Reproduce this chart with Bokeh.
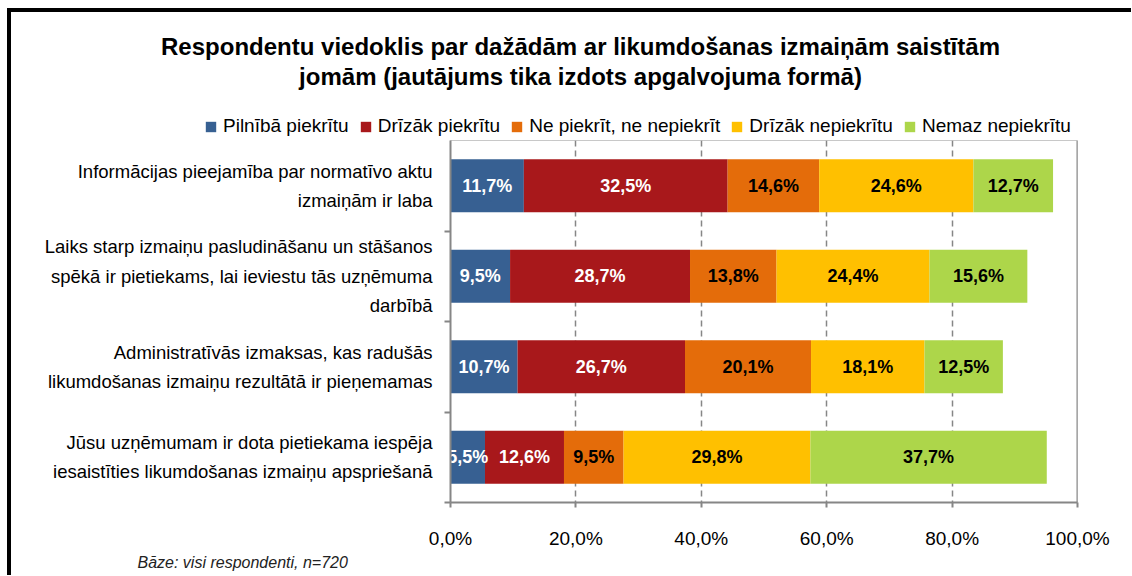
from bokeh.plotting import figure
from bokeh.models import ColumnDataSource, Range1d, FixedTicker, Span, Title, Label, Legend, LegendItem
from bokeh.layouts import column
from bokeh.embed import file_html
from bokeh.resources import INLINE
from bokeh.core.properties import value

# ---------------- data ----------------
title_lines = [
    "Respondentu viedoklis par dažādām ar likumdošanas izmaiņām saistītām",
    "jomām (jautājums tika izdots apgalvojuma formā)",
]
categories = [
    "Informācijas pieejamība par normatīvo aktu\nizmaiņām ir laba",
    "Laiks starp izmaiņu pasludināšanu un stāšanos\nspēkā ir pietiekams, lai ieviestu tās uzņēmuma\ndarbībā",
    "Administratīvās izmaksas, kas radušās\nlikumdošanas izmaiņu rezultātā ir pieņemamas",
    "Jūsu uzņēmumam ir dota pietiekama iespēja\niesaistīties likumdošanas izmaiņu apspriešanā",
]
series_names = ["Pilnībā piekrītu", "Drīzāk piekrītu", "Ne piekrīt, ne nepiekrīt",
                "Drīzāk nepiekrītu", "Nemaz nepiekrītu"]
pilniba_piekritu = [11.7, 9.5, 10.7, 5.5]
drizak_piekritu = [32.5, 28.7, 26.7, 12.6]
ne_piekrit_ne_nepiekrit = [14.6, 13.8, 20.1, 9.5]
drizak_nepiekritu = [24.6, 24.4, 18.1, 29.8]
nemaz_nepiekritu = [12.7, 15.6, 12.5, 37.7]
x_ticks = [0, 20, 40, 60, 80, 100]
x_tick_labels = ["0,0%", "20,0%", "40,0%", "60,0%", "80,0%", "100,0%"]
footnote = "Bāze: visi respondenti, n=720"

# ---------------- styles / layout ----------------
colors = ["#376092", "#A8181B", "#E46C0A", "#FFC000", "#ADD64A"]
label_colors = ["white", "white", "black", "black", "black"]
FONT = "Liberation Sans"
AXIS_GRAY = "#868686"

W = 1120
CX0, CY0 = 11, 12                        # canvas origin on the page
FL, FT, FR, FB = 450, 140, 1077, 502     # plot frame on the page
H_HEAD = FT - CY0                        # header strip (title + legend)
H_MAIN = 575 - FT                        # plot strip

series = [pilniba_piekritu, drizak_piekritu, ne_piekrit_ne_nepiekrit,
          drizak_nepiekritu, nemaz_nepiekritu]
keys = ["s0", "s1", "s2", "s3", "s4"]
ys = [i + 0.5 for i in range(len(categories))]

data = {"y": ys}
for k, s in zip(keys, series):
    data[k] = s
src = ColumnDataSource(data)

# ================= header: title + legend =================
head = figure(width=W, height=H_HEAD, output_backend="svg", toolbar_location=None,
              x_range=Range1d(CX0, CX0 + W), y_range=Range1d(FT, CY0),
              x_axis_type=None, y_axis_type=None,
              min_border_left=0, min_border_right=0, min_border_top=0, min_border_bottom=0)
try:
    head.frame_align = False
except AttributeError:
    pass
head.outline_line_color = None
head.grid.visible = False
head.background_fill_color = "white"
head.border_fill_color = "white"

for line, py in zip(title_lines, [46, 76]):
    head.add_layout(Label(x=580, y=py, text=line, text_align="center",
                          text_baseline="middle", text_font=FONT,
                          text_font_style="bold", text_font_size="24px",
                          text_color="black"))

# legend proxies: same stacked series, hidden in the header
proxies = head.hbar_stack(keys, y="y", height=0.585, color=colors, line_color=None,
                          source=src)
items = []
for name, r in zip(series_names, proxies):
    r.visible = False
    items.append(LegendItem(label=name, renderers=[r]))
lg = Legend(items=items, orientation="horizontal", location=(204 - CX0, FT - 137),
            background_fill_alpha=0, border_line_color=None, padding=0, margin=0,
            spacing=10, glyph_width=13, glyph_height=13, label_standoff=6,
            label_height=20, label_text_font=FONT, label_text_font_size="19px",
            label_text_color="black", inactive_fill_alpha=0, click_policy="none")
head.add_layout(lg)

# ================= main plot =================
p = figure(width=W, height=H_MAIN, output_backend="svg", toolbar_location=None,
           x_range=Range1d(0, 100), y_range=Range1d(len(categories), 0),
           min_border_left=FL - CX0, min_border_right=CX0 + W - FR,
           min_border_top=0, min_border_bottom=FT + H_MAIN - FB)
p.background_fill_color = "white"
p.border_fill_color = "white"
p.outline_line_color = "#C8C8C8"
p.outline_line_width = 1

p.hbar_stack(keys, y="y", height=0.585, color=colors, line_color=None, source=src)

# value labels
left = [0.0] * len(categories)
for s, tc in zip(series, label_colors):
    mids = [l + v / 2 for l, v in zip(left, s)]
    txt = [f"{v:.1f}%".replace(".", ",") for v in s]
    p.text(x=mids, y=ys, text=txt, text_align="center", text_baseline="middle",
           text_font=value(FONT), text_font_style="bold", text_font_size="18px",
           text_color=tc)
    left = [l + v for l, v in zip(left, s)]

# grid
p.ygrid.visible = False
p.xgrid.ticker = FixedTicker(ticks=x_ticks[1:-1])
p.xgrid.grid_line_color = AXIS_GRAY
p.xgrid.grid_line_dash = "6 4"
p.xgrid.grid_line_width = 1.5
p.add_layout(Span(location=100, dimension="height", line_color=AXIS_GRAY, line_width=2))

# x axis
xa = p.xaxis[0]
xa.ticker = FixedTicker(ticks=x_ticks)
xa.major_label_overrides = dict(zip(x_ticks, x_tick_labels))
xa.axis_line_color = AXIS_GRAY
xa.axis_line_width = 2
xa.major_tick_line_color = AXIS_GRAY
xa.major_tick_line_width = 2
xa.major_tick_out = 5
xa.major_tick_in = 0
xa.minor_tick_line_color = None
xa.major_label_standoff = 20
xa.major_label_text_font = FONT
xa.major_label_text_font_size = "19px"
xa.major_label_text_color = "black"

# y axis: category labels at band centres, ticks at band boundaries
ya = p.yaxis[0]
ya.ticker = FixedTicker(ticks=ys, minor_ticks=list(range(1, len(categories) + 1)))
ya.major_label_overrides = dict(zip(ys, categories))
ya.axis_line_color = AXIS_GRAY
ya.axis_line_width = 2
ya.major_tick_out = 0
ya.major_tick_in = 0
ya.minor_tick_out = 6
ya.minor_tick_in = 0
ya.minor_tick_line_color = AXIS_GRAY
ya.minor_tick_line_width = 2
ya.major_label_standoff = 12
ya.major_label_text_font = FONT
ya.major_label_text_font_size = "18.5px"
ya.major_label_text_line_height = 1.4
ya.major_label_text_color = "black"

# footnote
fn = Title(text=footnote, align="left", offset=137 - FL, standoff=0,
           text_font=FONT, text_font_style="italic", text_font_size="16px",
           text_color="#222222")
p.add_layout(fn, "below")

layout = column(head, p, spacing=0)
layout.styles = {"margin-left": "7px", "margin-top": "8px",
                 "border-left": "4px solid #000", "border-top": "4px solid #000"}

open("out.html", "w").write(file_html(layout, INLINE))
